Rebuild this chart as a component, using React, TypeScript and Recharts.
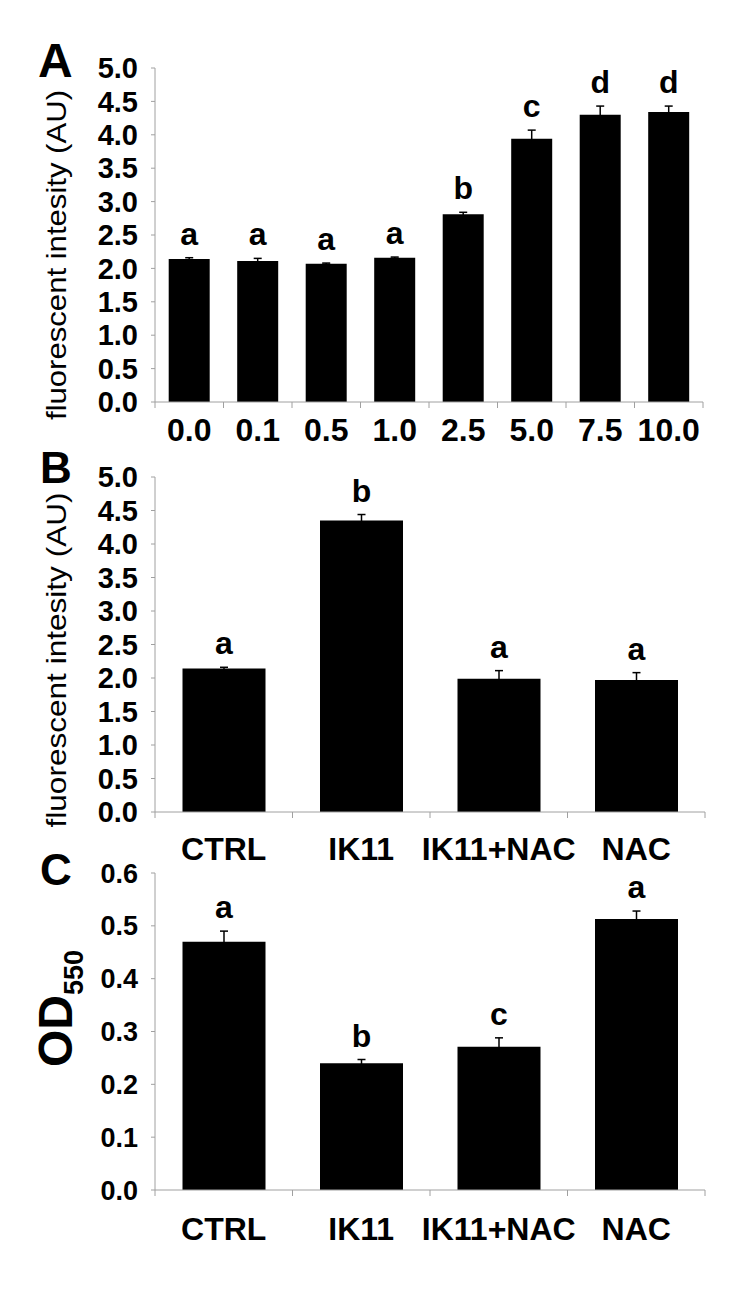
import { BarChart, Bar, XAxis, YAxis, ErrorBar, LabelList } from "recharts"

const FONT = '"Liberation Sans", Arial, Helvetica, sans-serif'
const AXIS_GREY = "#a0a0a0"

// panel A: dose series
const doseLabels = ["0.0", "0.1", "0.5", "1.0", "2.5", "5.0", "7.5", "10.0"]
const doseValues = [2.14, 2.11, 2.07, 2.16, 2.81, 3.94, 4.3, 4.34]
const doseErrors = [0.02, 0.04, 0.01, 0.01, 0.03, 0.13, 0.13, 0.09]
const doseLetters = ["a", "a", "a", "a", "b", "c", "d", "d"]

// panel B: fluorescence per treatment
const treatments = ["CTRL", "IK11", "IK11+NAC", "NAC"]
const fluoValues = [2.14, 4.35, 1.99, 1.97]
const fluoErrors = [0.02, 0.09, 0.12, 0.11]
const fluoLetters = ["a", "b", "a", "a"]

// panel C: OD550 per treatment
const odValues = [0.47, 0.24, 0.271, 0.513]
const odErrors = [0.02, 0.007, 0.017, 0.015]
const odLetters = ["a", "b", "c", "a"]

const fluoTicks = [0, 0.5, 1, 1.5, 2, 2.5, 3, 3.5, 4, 4.5, 5]
const odTicks = [0, 0.1, 0.2, 0.3, 0.4, 0.5, 0.6]

interface Row {
  name: string
  value: number
  err: number
  letter: string
}

function toRows(names: string[], values: number[], errs: number[], letters: string[]): Row[] {
  return names.map((name, i) => ({ name, value: values[i], err: errs[i], letter: letters[i] }))
}

function CategoryTick(props: any) {
  const { x, y, payload, index, gap, fontSize, count } = props
  const off = payload?.offset ?? 0
  const axisY = y - gap
  return (
    <g>
      <line x1={x - off} x2={x - off} y1={axisY} y2={axisY + 6} stroke={AXIS_GREY} />
      {index === count - 1 && (
        <line x1={x + off} x2={x + off} y1={axisY} y2={axisY + 6} stroke={AXIS_GREY} />
      )}
      <text
        x={x}
        y={y}
        dy="0.71em"
        textAnchor="middle"
        fontSize={fontSize}
        fontWeight="bold"
        fontFamily={FONT}
        fill="#000"
      >
        {payload.value}
      </text>
    </g>
  )
}

function Titles(props: any) {
  const { panel, px, py, panelSize, title } = props
  return (
    <g>
      <text x={px} y={py} fontSize={panelSize} fontWeight="bold" fontFamily={FONT} fill="#000">
        {panel}
      </text>
      {title}
    </g>
  )
}

interface PanelProps {
  top: number
  rows: Row[]
  ticks: number[]
  domainMax: number
  marginTop: number
  marginRight: number
  xAxisHeight: number
  xTickGap: number
  yTickSize: number
  labelTitle: React.ReactNode
}

function Panel({ top, rows, ticks, domainMax, marginTop, marginRight, xAxisHeight, xTickGap, yTickSize, labelTitle }: PanelProps) {
  const renderLetter = (p: any) => {
    const row = rows[p.index]
    if (!row) return null
    const h = Number(p.height)
    const errPx = row.value ? (row.err * h) / row.value : 0
    return (
      <text
        x={Number(p.x) + Number(p.width) / 2}
        y={Number(p.y) - errPx - 13}
        textAnchor="middle"
        fontSize={32}
        fontWeight="bold"
        fontFamily={FONT}
        fill="#000"
      >
        {row.letter}
      </text>
    )
  }

  return (
    <div style={{ position: "absolute", left: 0, top, width: 747, height: 460 }}>
      <BarChart
        width={747}
        height={460}
        data={rows}
        margin={{ top: marginTop, right: marginRight, bottom: 0, left: 0 }}
        barCategoryGap="20%"
      >
        <XAxis
          dataKey="name"
          height={xAxisHeight}
          axisLine={{ stroke: AXIS_GREY }}
          tickLine={false}
          tickSize={6}
          tickMargin={xTickGap - 6}
          interval={0}
          tick={<CategoryTick gap={xTickGap} fontSize={32} count={rows.length} />}
        />
        <YAxis
          width={155}
          domain={[0, domainMax]}
          ticks={ticks}
          interval={0}
          allowDataOverflow
          axisLine={{ stroke: AXIS_GREY }}
          tickLine={{ stroke: AXIS_GREY }}
          tickSize={4}
          tickMargin={13}
          tickFormatter={(v: number) => v.toFixed(1)}
          tick={{ fill: "#000", fontSize: yTickSize, fontWeight: "bold", fontFamily: FONT }}
          label={labelTitle as any}
        />
        <Bar dataKey="value" fill="#000" isAnimationActive={false}>
          <ErrorBar dataKey="err" direction="y" width={4} stroke="#000" strokeWidth={1.5} />
          <LabelList dataKey="letter" content={renderLetter} />
        </Bar>
      </BarChart>
    </div>
  )
}

function FluoTitle({ y, len }: { y: number; len: number }) {
  return (
    <text
      transform={`translate(66, ${y}) rotate(-90)`}
      textAnchor="middle"
      fontSize={28}
      fontFamily={FONT}
      fill="#000"
      textLength={len}
      lengthAdjust="spacingAndGlyphs"
    >
      fluorescent intesity (AU)
    </text>
  )
}

export default function App() {
  const rowsA = toRows(doseLabels, doseValues, doseErrors, doseLetters)
  const rowsB = toRows(treatments, fluoValues, fluoErrors, fluoLetters)
  const rowsC = toRows(treatments, odValues, odErrors, odLetters)

  return (
    <div style={{ position: "absolute", left: 0, top: 0, width: 747, height: 1290, background: "#fff" }}>
      <Panel
        top={0}
        rows={rowsA}
        ticks={fluoTicks}
        domainMax={5}
        marginTop={68}
        marginRight={44}
        xAxisHeight={58}
        xTickGap={16}
        yTickSize={29}
        labelTitle={<Titles panel="A" px={38} py={77} panelSize={48} title={<FluoTitle y={255} len={330} />} />}
      />
      <Panel
        top={420}
        rows={rowsB}
        ticks={fluoTicks}
        domainMax={5}
        marginTop={57}
        marginRight={42}
        xAxisHeight={68}
        xTickGap={25}
        yTickSize={29}
        labelTitle={<Titles panel="B" px={40} py={63} panelSize={44} title={<FluoTitle y={240} len={335} />} />}
      />
      <Panel
        top={830}
        rows={rowsC}
        ticks={odTicks}
        domainMax={0.6}
        marginTop={43}
        marginRight={42}
        xAxisHeight={100}
        xTickGap={27}
        yTickSize={27}
        labelTitle={
          <Titles
            panel="C"
            px={40}
            py={55}
            panelSize={44}
            title={
              <text
                transform="translate(72, 237) rotate(-90)"
                fontSize={48}
                fontWeight="bold"
                fontFamily={FONT}
                fill="#000"
              >
                OD
                <tspan dy={11} fontSize={27}>
                  550
                </tspan>
              </text>
            }
          />
        }
      />
    </div>
  )
}
